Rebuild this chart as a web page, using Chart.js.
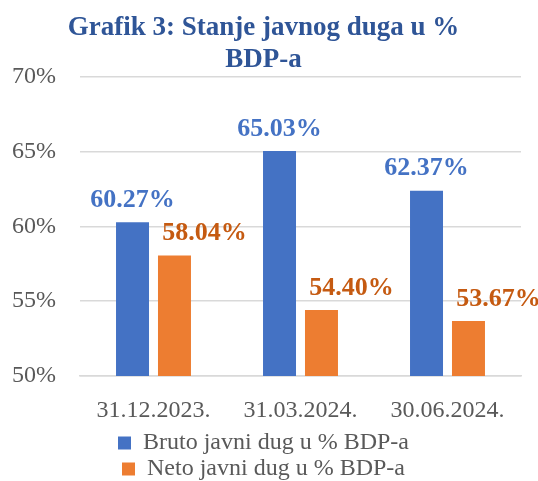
<!DOCTYPE html>
<html>
<head>
<meta charset="utf-8">
<script src="https://cdn.jsdelivr.net/npm/chart.js@4.4.1/dist/chart.umd.min.js"></script>
<style>
    html, body { margin: 0; padding: 0; background: #fff; }
    #wrap { width: 538px; height: 481px; }
</style>
</head>
<body>
<div id="wrap"><canvas id="chart"></canvas></div>
<script>
const categories = ['31.12.2023.', '31.03.2024.', '30.06.2024.'];
const bruto = [60.27, 65.03, 62.37];
const neto = [58.04, 54.40, 53.67];
const yTicks = [50, 55, 60, 65, 70];
const seriesNames = ['Bruto javni dug u % BDP-a', 'Neto javni dug u % BDP-a'];

const FONT = "'Liberation Serif', 'Times New Roman', serif";

// value labels above the bars (orange ones sit a bit to the right, like in the original)
const valueLabels = {
    id: 'valueLabels',
    afterDatasetsDraw(chart) {
        const ctx = chart.ctx;
        const colors = ['#4472C4', '#C55A11'];
        const shiftX = [0, 30];
        ctx.save();
        ctx.font = `bold 26px ${FONT}`;
        ctx.textAlign = 'center';
        ctx.textBaseline = 'middle';
        chart.data.datasets.forEach((ds, i) => {
            const meta = chart.getDatasetMeta(i);
            ctx.fillStyle = colors[i];
            meta.data.forEach((bar, j) => {
                ctx.fillText(ds.data[j].toFixed(2) + '%', bar.x + shiftX[i], bar.y - 22);
            });
        });
        ctx.restore();
    }
};

new Chart(document.getElementById('chart'), {
    type: 'bar',
    data: {
        labels: categories,
        datasets: [
            { label: seriesNames[0], data: bruto, backgroundColor: '#4472C4' },
            { label: seriesNames[1], data: neto, backgroundColor: '#ED7D31' }
        ]
    },
    options: {
        responsive: true,
        maintainAspectRatio: false,
        animation: false,
        categoryPercentage: 0.571,
        barPercentage: 0.786,
        layout: { padding: { left: 6, right: 17, top: 0, bottom: -10 } },
        plugins: {
            title: {
                display: true,
                text: ['Grafik 3: Stanje javnog duga u %', 'BDP-a'],
                color: '#2F5597',
                font: { family: FONT, size: 27, weight: 'bold', lineHeight: 1.15 },
                padding: { top: 13, bottom: 1.4 }
            },
            legend: {
                position: 'bottom',
                labels: {
                    color: '#595959',
                    font: { family: FONT, size: 24, lineHeight: 1 },
                    boxWidth: 13,
                    boxHeight: 13,
                    padding: 2
                }
            },
            tooltip: { enabled: false }
        },
        scales: {
            x: {
                grid: { display: false },
                border: { color: '#d9d9d9', width: 1.5 },
                ticks: {
                    color: '#595959',
                    font: { family: FONT, size: 24 },
                    padding: 12
                },
                afterFit(scale) { scale.height = 53; }
            },
            y: {
                min: 50,
                max: 70,
                border: { display: false },
                grid: { color: '#d9d9d9', lineWidth: 1.5, drawTicks: false },
                afterBuildTicks(scale) { scale.ticks = yTicks.map(v => ({ value: v })); },
                ticks: {
                    color: '#595959',
                    font: { family: FONT, size: 24 },
                    padding: 24,
                    callback: v => v + '%'
                },
                afterFit(scale) { scale.width = 74; }
            }
        }
    },
    plugins: [valueLabels]
});
</script>
</body>
</html>
